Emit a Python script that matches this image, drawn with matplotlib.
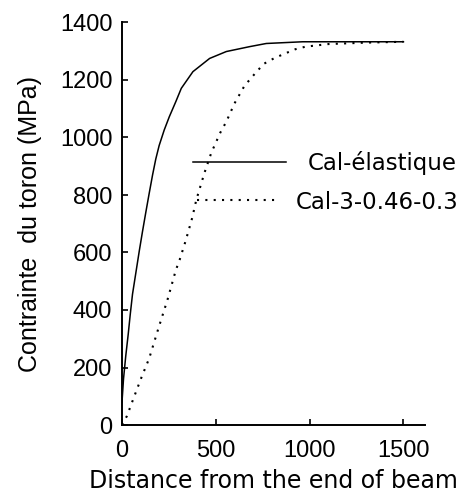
import matplotlib
matplotlib.use("Agg")
import matplotlib.pyplot as plt

# distance (mm) / stress (MPa)
elastic_x = [0, 8, 20, 33, 44, 56, 74, 92, 109, 127, 145, 163, 180, 198, 225,
             252, 287, 316, 378, 467, 556, 680, 769, 963, 1500]
elastic_y = [80, 160, 240, 315, 385, 455, 530, 605, 672, 740, 806, 870, 925, 972, 1026,
             1072, 1125, 1171, 1229, 1275, 1299, 1316, 1327, 1333, 1333]

plastic_x = [0, 26, 65, 104, 145, 193, 243, 287, 307, 339, 374, 396, 440, 476, 524,
             556, 600, 653, 707, 755, 809, 861, 924, 979, 1100, 1300, 1500]
plastic_y = [0, 31, 99, 166, 232, 334, 437, 539, 574, 640, 720, 783, 878, 947, 1017,
             1055, 1119, 1180, 1221, 1256, 1275, 1290, 1307, 1316, 1325, 1330, 1333]

labels = ["Cal-élastique", "Cal-3-0.46-0.3"]
x_ticks = [0, 500, 1000, 1500]
y_ticks = [0, 200, 400, 600, 800, 1000, 1200, 1400]

plt.rcParams['font.family'] = ['Liberation Sans', 'DejaVu Sans']
fs = 17

fig = plt.figure(figsize=(4.70, 4.92), dpi=100)
ax = fig.add_axes([122 / 470, 67 / 492, (425 - 122) / 470, (425 - 22.5) / 492])

l1, = ax.plot(elastic_x, elastic_y, color='black', lw=1.1, label=labels[0])
l2, = ax.plot(plastic_x, plastic_y, color='black', lw=1.5, linestyle=(0, (1, 3)), label=labels[1])

ax.set_xlim(0, 1615)
ax.set_ylim(0, 1400)
ax.set_xticks(x_ticks)
ax.set_yticks(y_ticks)
ax.tick_params(direction='in', length=4, width=1.2, labelsize=fs)
ax.tick_params(axis='y', pad=7)
ax.tick_params(axis='x', pad=11)
for side in ['top', 'right']:
    ax.spines[side].set_visible(False)
for side in ['left', 'bottom']:
    ax.spines[side].set_linewidth(1.4)

ax.set_xlabel('Distance from the end of beam', fontsize=17, family='DejaVu Sans', labelpad=4.5)
ax.set_ylabel('Contrainte  du toron (MPa)', fontsize=18, labelpad=13)

# the two legend rows are not aligned in the reference, so two legends
leg_kw = dict(loc='center left', bbox_transform=fig.transFigure, frameon=False,
              prop={'family': 'DejaVu Sans', 'size': 16.5}, borderpad=0, borderaxespad=0)
leg1 = ax.legend(handles=[l1], bbox_to_anchor=(193 / 470, 1 - 163 / 492),
                 handlelength=4.06, handletextpad=0.96, **leg_kw)
ax.add_artist(leg1)
ax.legend(handles=[l2], bbox_to_anchor=(197 / 470, 1 - 202 / 492),
          handlelength=3.5, handletextpad=0.79, **leg_kw)

fig.savefig('out.png', dpi=100)
